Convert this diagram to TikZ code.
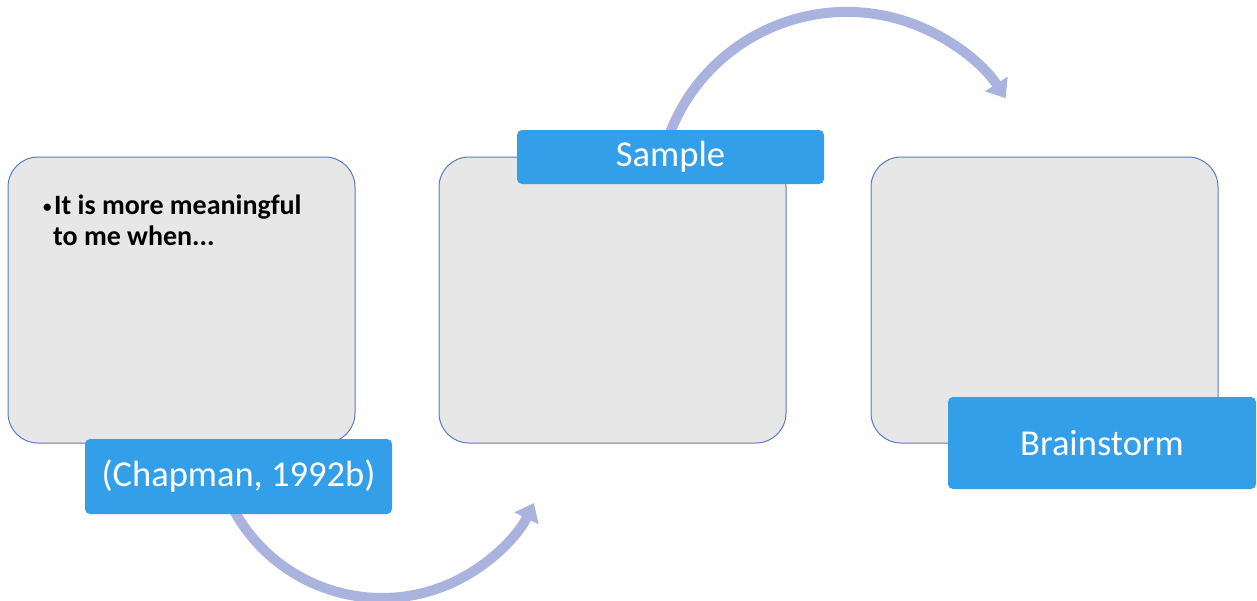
\documentclass[tikz,border=0pt]{standalone}
\usepackage{fontspec}
\setmainfont{Carlito}
\usetikzlibrary{arrows.meta}
\definecolor{boxfill}{HTML}{E7E7E7}
\definecolor{boxline}{HTML}{5B78C6}
\definecolor{tagblue}{HTML}{349FE9}
\definecolor{arrowcol}{HTML}{AAB3DD}
\tikzset{
  card/.style={draw=boxline, line width=1pt, fill=boxfill, rounded corners=30pt},
  tag/.style={fill=tagblue, rounded corners=5pt, text=white, inner sep=0pt,
              font=\fontsize{36.5}{43}\selectfont},
  flow/.style={draw=arrowcol, line width=10pt,
               -{Triangle[width=26pt,length=17pt]}}
}
\newcommand\smallbullet{\makebox[11pt][l]{\fontsize{17}{17}\selectfont\raisebox{2pt}{•}}}
\begin{document}
\begin{tikzpicture}[x=1pt,y=-1pt]
\useasboundingbox (0,0) rectangle (1257,600);

% three cards
\draw[card] (8,157) rectangle (355,443);
\draw[card] (439,157) rectangle (786,443);
\draw[card] (871,157) rectangle (1218,443);

% text of the first card
\node[anchor=north west, inner sep=0pt, align=left,
      font=\fontsize{28}{31}\selectfont\bfseries] (txt) at (43,195)
  {\smallbullet It is more meaningful\\\hspace*{10pt}to me when...};

% curved arrows between the stages
\coordinate (a1s) at (232.8,508.3);
\coordinate (a2s) at (668.6,136.6);
\draw[flow] (a1s) arc[start angle=-152, end angle=-26, radius=169pt];
\draw[flow] (a2s) arc[start angle=160, end angle=33, radius=189.5pt];

% stage labels
\node[tag, minimum width=307pt, minimum height=75pt] (l1) at (238.5,476.5) {(Chapman, 1992b)};
\node[tag, minimum width=307pt, minimum height=54pt] (l2) at (670.5,157) {Sample};
\node[tag, minimum width=308pt, minimum height=92pt] (l3) at (1102,443) {Brainstorm};
\end{tikzpicture}
\end{document}
